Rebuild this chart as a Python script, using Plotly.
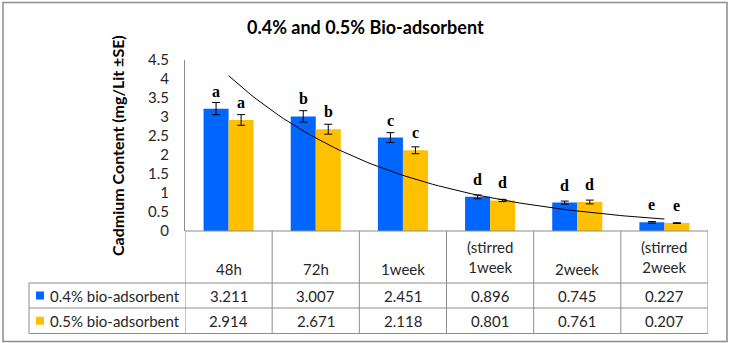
import numpy as np
import plotly.graph_objects as go

# ---- data ----
categories = ["48h", "72h", "1week", "(stirred<br>1week", "2week", "(stirred<br>2week"]
series_names = ["0.4% bio-adsorbent", "0.5% bio-adsorbent"]
vals_04 = [3.211, 3.007, 2.451, 0.896, 0.745, 0.227]
vals_05 = [2.914, 2.671, 2.118, 0.801, 0.761, 0.207]
se_04 = [0.16, 0.15, 0.13, 0.05, 0.04, 0.02]
se_05 = [0.14, 0.13, 0.09, 0.03, 0.05, 0.01]
letters_04 = ["a", "b", "c", "d", "d", "e"]
letters_05 = ["a", "b", "c", "d", "d", "e"]
y_ticks = [0, 0.5, 1, 1.5, 2, 2.5, 3, 3.5, 4, 4.5]

BLUE = "#0066FF"
GOLD = "#FFC000"
GRID = "#8C8C8C"
TXT = "#262626"
FONT = "Lato, 'Open Sans', sans-serif"
SERIF = "'Liberation Serif', 'DejaVu Serif', serif"

W, H = 731, 343
def px(x):
    return x / W
def py(y):
    return 1 - y / H

# plot area / table geometry (pixels)
X0, X1 = 185, 708
Y_TOP, Y_AXIS = 59.5, 231
Y_HDR, Y_R1, Y_R2 = 283, 308, 333.5
LEG_X = 29

n = len(categories)
xs = np.arange(n)
bar_w = 0.287

fig = go.Figure()
for vals, se, name, col in [(vals_04, se_04, series_names[0], BLUE),
                            (vals_05, se_05, series_names[1], GOLD)]:
    fig.add_trace(go.Bar(
        x=xs, y=vals, name=name, marker=dict(color=col, line=dict(width=0)),
        error_y=dict(type="data", array=se, visible=True, color="black",
                     thickness=1, width=4),
        showlegend=False))

# exponential trendline fitted to the 0.5% series
coef = np.polyfit(xs, np.log(vals_05), 1)
tx = np.linspace(0, n - 1, 80)
fig.add_trace(go.Scatter(x=tx, y=np.exp(np.polyval(coef, tx)), mode="lines",
                         line=dict(color="black", width=1), showlegend=False,
                         hoverinfo="skip"))

def note(**kw):
    base = dict(showarrow=False, xanchor="center", yanchor="middle")
    base.update(kw)
    return base

ann = []
# significance letters above bars
for i in range(n):
    for v, lab, off in [(vals_04[i], letters_04[i], -bar_w / 2),
                        (vals_05[i], letters_05[i], bar_w / 2)]:
        ann.append(note(x=i + off, y=v, xref="x", yref="y", text=f"<b>{lab}</b>",
                        yanchor="bottom", yshift=7,
                        font=dict(family=SERIF, size=16, color="black")))

# data table under the chart
TFONT = dict(family=FONT, size=15, color=TXT)
for i, c in enumerate(categories):
    if "<br>" in c:
        ann.append(note(x=i, y=py(257), xref="x", yref="paper", text=c, font=TFONT))
    else:
        ann.append(note(x=i, y=py(268.5), xref="x", yref="paper", text=c, font=TFONT))
    ann.append(note(x=i, y=py((Y_HDR + Y_R1) / 2), xref="x", yref="paper",
                    text=f"{vals_04[i]:.3f}", font=TFONT))
    ann.append(note(x=i, y=py((Y_R1 + Y_R2) / 2), xref="x", yref="paper",
                    text=f"{vals_05[i]:.3f}", font=TFONT))
for name, (ya, yb) in zip(series_names, [(Y_HDR, Y_R1), (Y_R1, Y_R2)]):
    ann.append(note(x=px(48), y=py((ya + yb) / 2), xref="paper", yref="paper",
                    text=name, xanchor="left", font=TFONT))

# title and axis title
ann.append(note(x=px(365), y=py(27), xref="paper", yref="paper",
                text="<b>0.4% and 0.5% Bio-adsorbent</b>",
                font=dict(family=FONT, size=18, color="black")))
ann.append(note(x=px(118), y=py(146), xref="paper", yref="paper",
                text="<b>Cadmium Content (mg/Lit ±SE)</b>",
                textangle=-90, font=dict(family=FONT, size=16, color="black")))

shapes = []
line = dict(color=GRID, width=1)
# outer frame
shapes.append(dict(type="rect", xref="paper", yref="paper", x0=px(3), x1=px(727),
                   y0=py(341.5), y1=py(2.5), line=dict(color=GRID, width=1.5)))
# table grid
shapes.append(dict(type="line", xref="paper", yref="paper", x0=px(X0), x1=px(X1),
                   y0=py(Y_AXIS), y1=py(Y_AXIS), line=line))
for yy in (Y_HDR, Y_R1, Y_R2):
    shapes.append(dict(type="line", xref="paper", yref="paper", x0=px(LEG_X), x1=px(X1),
                       y0=py(yy), y1=py(yy), line=line))
shapes.append(dict(type="line", xref="paper", yref="paper", x0=px(LEG_X), x1=px(LEG_X),
                   y0=py(Y_HDR), y1=py(Y_R2), line=line))
for k in range(n + 1):
    shapes.append(dict(type="line", xref="x", yref="paper", x0=k - 0.5, x1=k - 0.5,
                       y0=py(Y_AXIS), y1=py(Y_R2), line=line))
# legend swatches
for col, (ya, yb) in [(BLUE, (Y_HDR, Y_R1)), (GOLD, (Y_R1, Y_R2))]:
    yc = (ya + yb) / 2
    shapes.append(dict(type="rect", xref="paper", yref="paper", x0=px(36), x1=px(44),
                       y0=py(yc + 4), y1=py(yc - 4), fillcolor=col, line=dict(width=0)))

fig.update_layout(
    width=W, height=H, margin=dict(l=0, r=0, t=0, b=0, pad=0, autoexpand=False),
    paper_bgcolor="white", plot_bgcolor="white",
    barmode="group", bargap=0.426, bargroupgap=0,
    xaxis=dict(domain=[px(X0), px(X1)], range=[-0.5, n - 0.5], showticklabels=False,
               showgrid=False, zeroline=False, showline=False, fixedrange=True,
               automargin=False),
    yaxis=dict(domain=[py(Y_AXIS), py(Y_TOP)], range=[0, 4.5], tickvals=y_ticks,
               ticktext=[f"{t:g}" for t in y_ticks], showgrid=False, zeroline=False,
               showline=True, linecolor=GRID, linewidth=1, ticks="", automargin=False,
               ticklabelstandoff=12, tickfont=dict(family=FONT, size=15, color=TXT)),
    annotations=ann, shapes=shapes,
)

fig.write_html("out.html")
